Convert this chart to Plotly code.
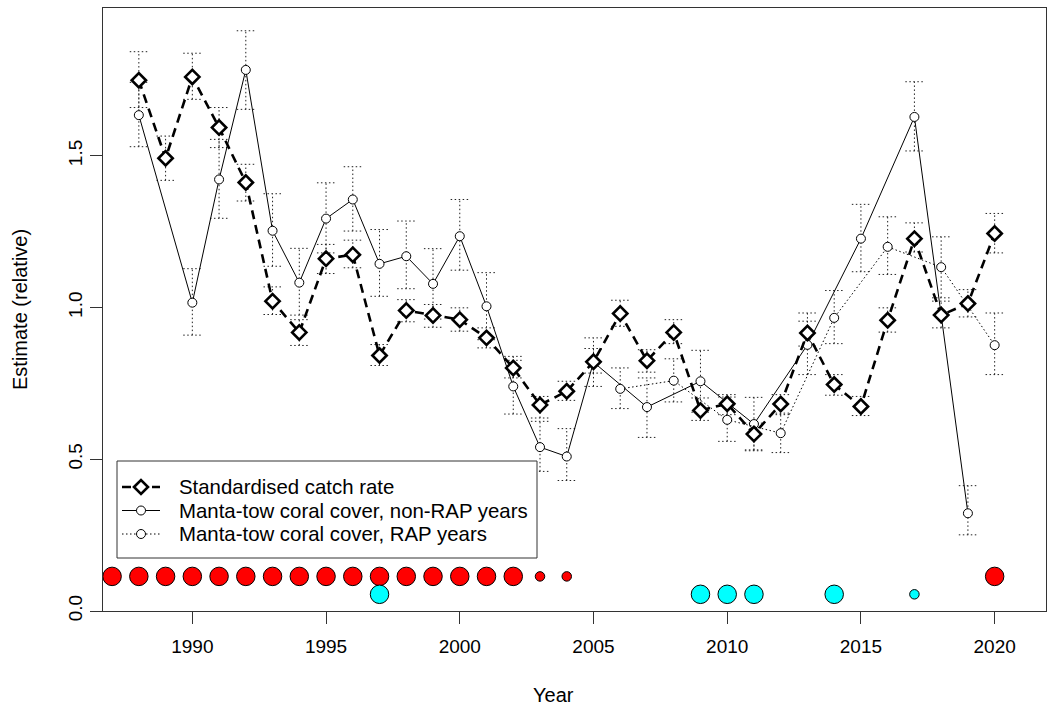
import plotly.graph_objects as go

# ---------------- data ----------------
catch_years = list(range(1988, 2021))
catch_rate = [1.749, 1.492, 1.760, 1.593, 1.412, 1.021, 0.918, 1.161, 1.174, 0.842,
              0.990, 0.974, 0.960, 0.900, 0.801, 0.679, 0.724, 0.821, 0.980, 0.825,
              0.918, 0.661, 0.683, 0.583, 0.682, 0.916, 0.746, 0.674, 0.958, 1.227,
              0.975, 1.013, 1.244]
catch_lo = [1.659, 1.419, 1.686, 1.527, 1.351, 0.977, 0.875, 1.112, 1.131, 0.809,
            0.953, 0.935, 0.922, 0.867, 0.768, 0.636, 0.694, 0.784, 0.938, 0.787,
            0.881, 0.628, 0.647, 0.531, 0.647, 0.873, 0.711, 0.644, 0.919, 1.183,
            0.933, 0.969, 1.180]
catch_hi = [1.843, 1.565, 1.838, 1.659, 1.472, 1.068, 0.960, 1.208, 1.222, 0.878,
            1.026, 1.010, 0.999, 0.933, 0.839, 0.707, 0.757, 0.865, 1.024, 0.861,
            0.960, 0.702, 0.713, 0.619, 0.713, 0.955, 0.779, 0.707, 0.999, 1.279,
            1.021, 1.059, 1.310]

nonrap_years = [1988, 1990, 1991, 1992, 1993, 1994, 1995, 1996, 1997, 1998, 1999,
                2000, 2001, 2002, 2003, 2004, 2005, 2007, 2009, 2011, 2013, 2015,
                2017, 2019]
nonrap_cover = [1.634, 1.016, 1.422, 1.783, 1.253, 1.082, 1.293, 1.356, 1.144, 1.169,
                1.078, 1.235, 1.004, 0.740, 0.540, 0.509, 0.820, 0.672, 0.757, 0.616,
                0.877, 1.227, 1.628, 0.322]
nonrap_lo = [1.530, 0.909, 1.294, 1.653, 1.136, 0.975, 1.180, 1.252, 1.037, 1.062,
             0.962, 1.123, 0.894, 0.649, 0.460, 0.430, 0.740, 0.572, 0.655, 0.528,
             0.779, 1.118, 1.516, 0.251]
nonrap_hi = [1.742, 1.128, 1.554, 1.912, 1.375, 1.195, 1.411, 1.464, 1.257, 1.285,
             1.194, 1.356, 1.115, 0.826, 0.625, 0.601, 0.900, 0.768, 0.859, 0.704,
             0.982, 1.340, 1.744, 0.413]

rap_years = [2006, 2008, 2010, 2012, 2014, 2016, 2018, 2020]
rap_cover = [0.732, 0.759, 0.630, 0.586, 0.966, 1.200, 1.133, 0.876]
rap_lo = [0.667, 0.689, 0.559, 0.522, 0.881, 1.109, 1.032, 0.779]
rap_hi = [0.801, 0.831, 0.705, 0.652, 1.056, 1.299, 1.233, 0.982]

# indicator dots along the bottom (size class: 2 = large, 1 = small)
red_years = list(range(1987, 2005)) + [2020]
red_class = [2] * 16 + [1, 1] + [2]
red_level = 0.114
cyan_years = [1997, 2009, 2010, 2011, 2014, 2017]
cyan_class = [2, 2, 2, 2, 2, 1]
cyan_level = 0.055

x_ticks = [1990, 1995, 2000, 2005, 2010, 2015, 2020]
y_ticks = [0.0, 0.5, 1.0, 1.5]

legend_labels = ["Standardised catch rate",
                 "Manta-tow coral cover, non-RAP years",
                 "Manta-tow coral cover, RAP years"]

# ---------------- styling / layout geometry ----------------
FONT = "Liberation Sans, Arial, sans-serif"
DOT = "1.5px,2.5px"
DASH = "9px,6px"
CAP = 0.34  # cap half-width in years
SIZE_PX = {1: 9.5, 2: 18.5}
W, H = 1048, 709
ML, MR, MT, MB = 103, 2, 8, 98
PW, PH = W - ML - MR, H - MT - MB


def px(xp):
    return (xp - ML) / PW


def py(yp):
    return (H - MB - yp) / PH


def errbar_path(xs, lo, hi):
    ex, ey = [], []
    for x, l, h in zip(xs, lo, hi):
        ex += [x, x, None, x - CAP, x + CAP, None, x - CAP, x + CAP, None]
        ey += [l, h, None, l, l, None, h, h, None]
    return ex, ey


fig = go.Figure()

for xs, lo, hi in [(nonrap_years, nonrap_lo, nonrap_hi),
                   (rap_years, rap_lo, rap_hi),
                   (catch_years, catch_lo, catch_hi)]:
    ex, ey = errbar_path(xs, lo, hi)
    fig.add_trace(go.Scatter(x=ex, y=ey, mode="lines", showlegend=False,
                             hoverinfo="skip",
                             line=dict(color="#222", width=1, dash=DOT)))

fig.add_trace(go.Scatter(
    x=nonrap_years, y=nonrap_cover, mode="lines+markers",
    name=legend_labels[1], showlegend=False,
    line=dict(color="black", width=1),
    marker=dict(symbol="circle", size=9, color="white",
                line=dict(color="black", width=1))))

fig.add_trace(go.Scatter(
    x=rap_years, y=rap_cover, mode="lines+markers",
    name=legend_labels[2], showlegend=False,
    line=dict(color="black", width=1, dash=DOT),
    marker=dict(symbol="circle", size=9, color="white",
                line=dict(color="black", width=1))))

fig.add_trace(go.Scatter(
    x=catch_years, y=catch_rate, mode="lines+markers",
    name=legend_labels[0], showlegend=False,
    line=dict(color="black", width=2.6, dash=DASH),
    marker=dict(symbol="diamond", size=11, color="white",
                line=dict(color="black", width=2.6))))

fig.add_trace(go.Scatter(
    x=red_years, y=[red_level] * len(red_years), mode="markers",
    showlegend=False, hoverinfo="x",
    marker=dict(color="#FF0000", opacity=1, size=[SIZE_PX[c] for c in red_class],
                line=dict(color="black", width=1))))
fig.add_trace(go.Scatter(
    x=cyan_years, y=[cyan_level] * len(cyan_years), mode="markers",
    showlegend=False, hoverinfo="x",
    marker=dict(color="#00FFFF", opacity=1, size=[SIZE_PX[c] for c in cyan_class],
                line=dict(color="black", width=1))))

axis_common = dict(showgrid=False, zeroline=False, showline=True, mirror=True,
                   linecolor="#333", linewidth=1, ticks="outside", ticklen=12,
                   tickcolor="#333", tickwidth=1,
                   tickfont=dict(family=FONT, size=19, color="black"))

# ---------- legend drawn by hand (box, samples, labels) ----------
shapes = [dict(type="rect", xref="paper", yref="paper",
               x0=px(117), x1=px(537), y0=py(558), y1=py(461),
               line=dict(color="#333", width=1), fillcolor="white", layer="above")]
annotations = []
row_y = [487, 510.5, 534]
line_styles = [dict(color="black", width=2.6, dash=DASH),
               dict(color="black", width=1),
               dict(color="black", width=1, dash=DOT)]
for i, yy in enumerate(row_y):
    shapes.append(dict(type="line", xref="paper", yref="paper",
                       x0=px(122), x1=px(160), y0=py(yy), y1=py(yy),
                       line=line_styles[i], layer="above"))
    if i == 0:
        d = 7
        path = (f"M{px(141 - d)},{py(yy)} L{px(141)},{py(yy - d)} "
                f"L{px(141 + d)},{py(yy)} L{px(141)},{py(yy + d)} Z")
        shapes.append(dict(type="path", xref="paper", yref="paper", path=path,
                           fillcolor="white", line=dict(color="black", width=2.6),
                           layer="above"))
    else:
        r = 4.5
        shapes.append(dict(type="circle", xref="paper", yref="paper",
                           x0=px(141 - r), x1=px(141 + r),
                           y0=py(yy + r), y1=py(yy - r),
                           fillcolor="white", line=dict(color="black", width=1),
                           layer="above"))
    annotations.append(dict(text=legend_labels[i], xref="paper", yref="paper",
                            x=px(177), y=py(yy), xanchor="left", yanchor="middle",
                            showarrow=False,
                            font=dict(family=FONT, size=20.4, color="black")))

# axis titles
annotations.append(dict(text="Year", xref="paper", yref="paper",
                        x=px(553), y=py(695), xanchor="center", yanchor="middle",
                        showarrow=False, font=dict(family=FONT, size=20, color="black")))
annotations.append(dict(text="Estimate (relative)", xref="paper", yref="paper",
                        x=px(20), y=py(310), xanchor="center", yanchor="middle",
                        textangle=-90, showarrow=False,
                        font=dict(family=FONT, size=20, color="black")))

fig.update_layout(
    width=W, height=H,
    margin=dict(l=ML, r=MR, t=MT, b=MB),
    paper_bgcolor="white", plot_bgcolor="white",
    font=dict(family=FONT, size=19, color="black"),
    xaxis=dict(range=[1986.66, 2021.92], tickvals=x_ticks, ticklabelstandoff=6,
               **axis_common),
    yaxis=dict(range=[0, 1.987], tickvals=y_ticks, tickformat=".1f", tickangle=-90,
               **axis_common),
    showlegend=False,
    shapes=shapes,
    annotations=annotations,
)

fig.write_html("out.html")
